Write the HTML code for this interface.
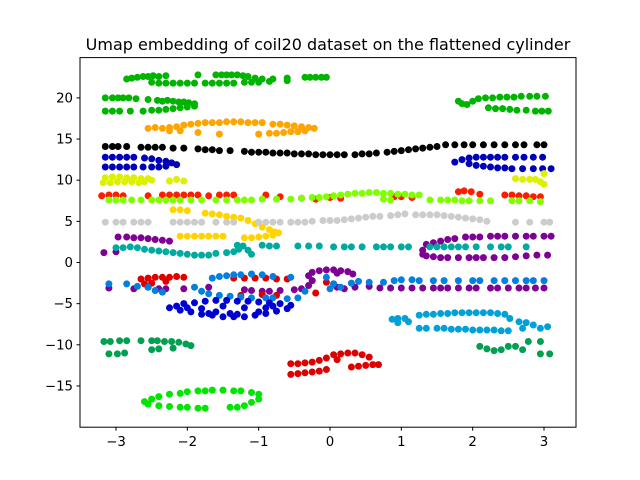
<!DOCTYPE html>
<html><head><meta charset="utf-8"><style>
html,body{margin:0;padding:0;background:#fff}
svg{display:block;font-family:"DejaVu Sans","Liberation Sans",sans-serif}
</style></head><body>
<svg id="chart" width="640" height="480" viewBox="0 0 640 480">
<rect width="640" height="480" fill="#fff"/>
<text x="328" y="50" font-size="16" text-anchor="middle" fill="#000">Umap embedding of coil20 dataset on the flattened cylinder</text>
<g id="points"></g>
<rect x="80" y="57.6" width="496" height="369.6" fill="none" stroke="#000" stroke-width="1"/>
<g id="xaxis"></g>
<g id="yaxis"></g>
</svg>
<script>
const xTicks=[-3,-2,-1,0,1,2,3];
const yTicks=[-15,-10,-5,0,5,10,15,20];
const seriesNames=["green","orange","black","darkblue","yellow","red","lime","gold","gray","purple","teal","red2","bluemid","darkblue2","lightblue","darkgreen","brightgreen"];
const seriesColors=["#00b400","#ffa500","#000000","#0000b8","#dcf000","#ff1a00","#7fff00","#ffd400","#cccccc","#7f0094","#00aaa0","#dd0000","#0080e0","#0000d2","#00a0d8","#00a050","#00e600"];
const green=[[-2.85,22.3],[-2.78,22.4],[-2.7,22.5],[-2.62,22.6],[-2.55,22.6],[-2.48,22.7],[-2.4,22.6],[-2.3,22.7],[-1.85,22.8],[-1.6,22.8],[-1.52,22.8],[-1.45,22.8],[-1.38,22.8],[-1.3,22.8],[-1.22,22.7],[-1.15,22.6],[-1.05,22.4],[-0.95,22.3],[-0.8,22.3],[-0.6,22.4],[-0.35,22.5],[-0.28,22.5],[-0.2,22.5],[-0.12,22.5],[-0.05,22.5],[-2.5,21.9],[-2.4,21.8],[-2.3,21.8],[-2.2,21.8],[-2.1,21.8],[-2.0,21.8],[-1.9,21.8],[-1.75,21.8],[-1.65,21.8],[-1.55,21.8],[-1.45,21.8],[-1.35,21.8],[-1.2,21.9],[-1.1,21.9],[-1.0,21.9],[-0.85,22.0],[-0.6,22.1],[-3.15,20.0],[-3.05,20.0],[-2.97,20.0],[-2.9,20.0],[-2.82,20.0],[-2.72,19.9],[-2.55,19.8],[-2.42,19.7],[-2.35,19.6],[-2.28,19.7],[-2.2,19.6],[-2.12,19.5],[-2.05,19.5],[-1.98,19.4],[-1.9,19.3],[-3.15,18.4],[-3.05,18.4],[-2.95,18.4],[-2.8,18.4],[-2.62,18.4],[-2.5,18.5],[-2.4,18.5],[-2.3,18.6],[-2.2,18.7],[-2.1,18.8],[-2.0,18.9],[-1.9,19.0],[1.8,19.6],[1.85,19.3],[1.92,19.2],[2.0,19.6],[2.08,19.9],[2.18,20.0],[2.28,20.0],[2.38,20.1],[2.48,20.1],[2.58,20.1],[2.68,20.2],[2.8,20.2],[2.9,20.2],[3.02,20.2],[2.22,18.8],[2.32,18.7],[2.42,18.7],[2.52,18.6],[2.62,18.5],[2.75,18.5],[2.88,18.4],[2.97,18.4],[3.06,18.4]];
const orange=[[-2.55,16.3],[-2.45,16.4],[-2.35,16.3],[-2.25,16.4],[-2.15,16.5],[-2.05,16.7],[-1.95,16.8],[-1.85,16.9],[-1.75,17.0],[-1.65,17.0],[-1.55,17.0],[-1.45,17.1],[-1.35,17.1],[-1.25,17.1],[-1.15,17.0],[-1.05,17.0],[-0.95,17.0],[-0.8,16.8],[-0.7,16.8],[-0.6,16.7],[-0.5,16.6],[-0.4,16.5],[-0.3,16.4],[-0.22,16.3],[-2.25,16.0],[-2.1,16.0],[-1.85,15.8],[-1.55,15.6],[-1.0,15.6],[-0.85,15.7],[-0.75,15.7],[-0.65,15.8],[-0.55,15.9],[-0.45,15.9],[-0.35,16.0]];
const black=[[-3.15,14.1],[-3.05,14.1],[-2.97,14.1],[-2.85,14.1],[-2.65,14.0],[-2.55,14.0],[-2.45,14.0],[-2.35,14.0],[-2.2,13.9],[-2.05,13.9],[-1.85,13.8],[-1.75,13.7],[-1.65,13.7],[-1.55,13.6],[-1.4,13.6],[-1.2,13.5],[-1.1,13.4],[-1.0,13.4],[-0.9,13.4],[-0.8,13.3],[-0.7,13.3],[-0.6,13.3],[-0.5,13.2],[-0.4,13.2],[-0.3,13.2],[-0.2,13.1],[-0.1,13.1],[0.0,13.1],[0.1,13.1],[0.2,13.1],[0.35,13.1],[0.45,13.2],[0.55,13.2],[0.65,13.3],[0.8,13.4],[0.9,13.5],[1.0,13.6],[1.1,13.7],[1.2,13.8],[1.3,13.9],[1.4,14.0],[1.5,14.1],[1.62,14.3],[1.75,14.3],[1.88,14.3],[2.0,14.3],[2.15,14.3],[2.3,14.3],[2.45,14.3],[2.6,14.3],[2.72,14.3],[2.9,14.3],[3.0,14.3]];
const darkblue=[[-3.15,12.8],[-3.05,12.8],[-2.95,12.8],[-2.85,12.8],[-2.75,12.8],[-2.6,12.7],[-2.5,12.6],[-2.4,12.4],[-2.3,12.3],[-2.22,12.1],[-2.15,11.9],[-3.15,11.6],[-3.05,11.6],[-2.95,11.6],[-2.85,11.6],[-2.75,11.6],[-2.62,11.6],[-2.5,11.6],[-2.4,11.6],[-2.3,11.7],[1.75,12.2],[1.85,12.5],[1.95,12.7],[2.05,12.8],[2.15,12.8],[2.25,12.8],[2.35,12.8],[2.45,12.8],[2.6,12.8],[2.72,12.8],[2.85,12.8],[2.98,12.8],[1.95,12.0],[2.05,11.8],[2.15,11.7],[2.25,11.6],[2.35,11.5],[2.45,11.5],[2.55,11.4],[2.7,11.4],[2.85,11.4],[2.98,11.4],[3.1,11.4]];
const yellow=[[-3.15,10.3],[-3.05,10.4],[-2.95,10.4],[-2.85,10.3],[-2.75,10.3],[-2.65,10.2],[-2.55,10.2],[-3.18,9.7],[-3.08,9.7],[-2.98,9.8],[-2.88,9.8],[-2.78,9.8],[-2.68,9.7],[-2.6,9.8],[-2.5,10.0],[-2.25,9.9],[-2.15,10.1],[-2.05,9.9],[2.6,10.2],[2.7,10.1],[2.8,10.1],[2.88,10.1],[2.95,9.8],[3.0,10.8],[3.0,9.5]];
const red=[[-3.2,8.1],[-3.1,8.2],[-3.0,8.2],[-2.9,8.1],[-2.55,8.1],[-2.35,8.2],[-2.25,8.2],[-2.15,8.2],[-2.05,8.2],[-1.95,8.2],[-1.85,8.2],[-1.7,8.1],[-1.55,8.2],[-1.45,8.2],[-1.35,8.2],[-0.9,8.2],[-0.7,8.0],[-0.4,7.8],[-0.2,7.7],[0.0,7.9],[0.15,7.8],[0.9,8.0],[1.0,8.0],[1.15,7.9],[1.8,8.6],[1.88,8.7],[1.98,8.6],[2.1,8.3],[2.45,8.2],[2.55,8.2],[2.65,8.1],[2.75,8.1],[2.85,8.0],[2.95,8.0]];
const lime=[[-3.1,7.6],[-3.0,7.6],[-2.9,7.6],[-2.78,7.6],[-2.65,7.6],[-2.5,7.6],[-2.4,7.6],[-2.3,7.6],[-2.2,7.6],[-2.1,7.6],[-1.95,7.6],[-1.8,7.6],[-1.6,7.6],[-1.45,7.6],[-1.3,7.6],[-1.2,7.6],[-1.1,7.6],[-0.95,7.7],[-0.75,7.7],[-0.55,7.7],[-0.4,7.8],[-0.25,7.9],[-0.15,7.9],[-0.05,8.0],[0.05,8.1],[0.15,8.2],[0.25,8.3],[0.35,8.4],[0.45,8.4],[0.55,8.5],[0.65,8.5],[0.75,8.4],[0.85,8.4],[0.95,8.3],[1.05,8.3],[1.15,8.2],[1.25,8.2],[0.75,7.7],[0.85,7.6],[1.4,7.6],[1.55,7.6],[1.65,7.6],[1.75,7.6],[1.85,7.5],[1.95,7.5],[2.1,7.5],[2.25,7.5],[2.55,7.5],[2.65,7.5],[2.8,7.5],[2.95,7.4]];
const gold=[[-2.2,6.4],[-2.1,6.4],[-2.0,6.3],[-1.75,6.0],[-1.65,5.9],[-1.55,5.8],[-1.45,5.6],[-1.35,5.5],[-1.25,5.4],[-1.15,5.1],[-1.05,4.7],[-0.95,4.3],[-0.85,4.0],[-0.78,3.7],[-2.1,3.2],[-2.0,3.2],[-1.9,3.2],[-1.8,3.2],[-1.7,3.2],[-1.6,3.2],[-1.5,3.2],[-1.2,3.0],[-1.1,3.0],[-1.0,3.1],[-0.9,3.2],[-0.8,3.3],[-0.72,3.6]];
const gray=[[-3.15,4.9],[-3.0,4.9],[-2.9,4.9],[-2.75,4.9],[-2.65,4.9],[-2.55,4.9],[-2.2,4.9],[-2.1,4.9],[-2.0,4.9],[-1.9,4.9],[-1.8,4.9],[-1.6,4.9],[-1.45,4.9],[-1.35,4.9],[-1.0,4.9],[-0.9,4.9],[-0.8,4.9],[-0.7,4.9],[-0.55,4.9],[-0.45,4.9],[-0.35,4.9],[-0.25,5.0],[-0.1,5.1],[0.0,5.1],[0.1,5.1],[0.2,5.2],[0.3,5.3],[0.4,5.4],[0.5,5.5],[0.6,5.6],[0.7,5.6],[0.85,5.7],[0.95,5.8],[1.05,5.9],[1.2,5.8],[1.3,5.8],[1.4,5.8],[1.5,5.8],[1.6,5.7],[1.7,5.6],[1.8,5.5],[1.9,5.4],[2.0,5.3],[2.1,5.2],[2.2,5.0],[2.6,4.9],[2.8,4.9],[3.0,4.9],[3.08,4.9]];
const purple=[[-2.97,3.1],[-2.85,3.1],[-2.75,3.0],[-2.65,3.0],[-2.55,2.9],[-2.45,2.8],[-2.35,2.7],[-2.25,2.6],[-3.17,1.2],[-3.0,1.3],[1.35,2.2],[1.45,2.4],[1.55,2.6],[1.65,2.8],[1.75,2.9],[1.9,3.1],[2.0,3.1],[2.1,3.1],[2.25,3.2],[2.35,3.2],[2.45,3.2],[2.6,3.2],[2.75,3.2],[2.85,3.2],[3.0,3.2],[3.1,3.2],[1.3,1.5],[1.3,1.0],[1.35,0.8],[1.45,0.7],[1.55,0.6],[1.65,0.6],[1.8,0.6],[1.95,0.6],[2.05,0.6],[2.15,0.6],[2.3,0.6],[2.45,0.6],[2.6,0.7],[2.75,0.8],[2.9,0.9],[3.05,0.9],[-3.1,-3.1],[-2.75,-3.2],[-2.55,-3.0],[-2.4,-3.2],[-2.3,-3.2],[-2.05,-3.2],[-1.7,-3.0],[-1.2,-3.3],[-1.1,-3.4],[-0.95,-3.5],[-0.85,-3.5],[-0.7,-3.4],[-0.5,-3.3],[-0.4,-3.2],[-0.3,-2.8],[-0.25,-2.2],[-0.3,-1.6],[-0.25,-1.2],[-0.15,-1.0],[-0.05,-0.9],[0.05,-0.9],[0.15,-1.0],[0.25,-1.1],[0.32,-1.4],[0.1,-1.3],[0.1,-3.0],[0.2,-3.2],[0.35,-3.0],[0.55,-2.9],[0.7,-3.1],[0.85,-3.1],[1.0,-3.1],[1.15,-3.1],[1.3,-3.1],[1.45,-3.1],[1.55,-3.1],[1.65,-3.1],[1.8,-3.1],[1.95,-3.1],[2.05,-3.1],[2.25,-3.1],[2.35,-3.1],[2.5,-3.1],[2.65,-3.1],[2.75,-3.1],[2.88,-3.1],[3.0,-3.1]];
const teal=[[-3.0,1.8],[-2.9,1.8],[-2.8,1.9],[-2.7,1.8],[-2.6,1.6],[-2.5,1.5],[-2.4,1.4],[-2.3,1.3],[-2.2,1.2],[-2.1,1.1],[-2.0,1.0],[-1.9,0.9],[-1.8,0.9],[-1.7,0.9],[-1.6,1.1],[-1.45,1.2],[-1.35,1.3],[-1.28,1.6],[-1.22,2.0],[-1.3,2.1],[-1.15,1.5],[-1.1,1.0],[-0.95,2.1],[-0.85,2.0],[-0.75,2.0],[-0.45,2.0],[-0.3,2.0],[-0.15,2.0],[0.05,1.9],[0.2,1.9],[0.3,1.9],[0.45,1.9],[0.65,1.9],[0.75,1.9],[0.85,1.9],[1.0,1.9],[1.1,1.9],[1.4,1.9],[1.5,1.9],[1.6,1.9],[1.7,1.9],[1.8,1.9],[1.9,1.9],[2.05,1.9],[2.25,1.9],[2.4,1.9],[2.5,1.9],[2.75,1.9]];
const red2=[[-2.65,-2.0],[-2.55,-1.9],[-2.45,-1.8],[-2.35,-1.8],[-2.25,-1.8],[-2.15,-1.7],[-2.05,-1.8],[-2.6,-2.6],[-2.5,-2.5],[-2.3,-2.3],[-1.35,-1.9],[-1.2,-1.9],[-1.05,-1.9],[-0.9,-1.9],[-0.75,-2.0],[-0.6,-2.0],[-1.25,-4.0],[-0.75,-4.0],[-0.95,-3.9],[-0.2,-3.7],[-0.05,-2.4],[0.05,-2.6],[-0.55,-13.6],[-0.45,-13.5],[-0.35,-13.4],[-0.25,-13.3],[-0.15,-13.2],[-0.05,-13.0],[-0.55,-12.3],[-0.45,-12.3],[-0.35,-12.2],[-0.25,-12.1],[-0.15,-11.9],[-0.05,-11.6],[0.05,-11.2],[0.15,-11.1],[0.25,-11.0],[0.35,-11.0],[0.45,-11.2],[0.55,-11.5],[0.3,-12.7],[0.4,-12.6],[0.5,-12.5],[0.6,-12.4],[0.68,-12.4],[0.1,-11.8]];
const bluemid=[[-3.1,-2.6],[-2.85,-2.6],[-2.7,-2.9],[-2.55,-3.0],[-2.45,-3.4],[-2.35,-3.6],[-1.65,-1.9],[-1.55,-1.7],[-1.45,-1.6],[-1.35,-1.5],[-1.25,-1.5],[-1.1,-1.4],[-0.95,-1.5],[-0.8,-1.7],[-0.55,-1.8],[-1.9,-3.0],[-1.8,-3.5],[-1.7,-3.8],[-1.55,-4.0],[-1.4,-4.1],[-1.25,-4.2],[-1.1,-4.3],[-0.9,-4.3],[-0.8,-4.3],[-0.6,-4.4],[-0.45,-4.3],[-0.35,-3.5],[-0.05,-1.8],[0.0,-3.2],[0.05,-2.6],[0.15,-3.0],[0.3,-2.5],[0.4,-2.3],[0.55,-2.4],[0.75,-2.4],[0.9,-2.2],[1.0,-2.1],[1.15,-2.1],[1.25,-2.2],[1.45,-2.2],[1.6,-2.2],[1.8,-2.2],[2.0,-2.2],[2.1,-2.2],[2.3,-2.2],[2.45,-2.2],[2.6,-2.2],[2.75,-2.2],[2.85,-2.2],[3.0,-2.2]];
const darkblue2=[[-2.25,-5.5],[-2.15,-5.3],[-2.05,-5.0],[-1.9,-4.9],[-1.75,-4.7],[-1.6,-4.6],[-1.45,-4.6],[-1.3,-4.7],[-1.15,-4.7],[-1.0,-4.8],[-0.85,-4.9],[-0.7,-5.0],[-0.55,-5.2],[-2.1,-5.8],[-1.95,-6.0],[-1.8,-6.3],[-1.65,-6.4],[-1.5,-6.6],[-1.35,-6.6],[-1.2,-6.6],[-1.05,-6.4],[-0.9,-6.2],[-0.75,-5.9],[-0.6,-5.6],[-1.6,-6.0],[-1.4,-6.2],[-1.0,-6.0],[-1.8,-5.6],[-1.5,-5.3],[-1.2,-5.5],[-0.9,-5.5],[-2.0,-5.5],[-1.7,-6.2],[-1.3,-6.3],[-0.8,-5.3]];
const lightblue=[[0.87,-6.9],[0.95,-6.8],[1.05,-6.8],[1.1,-7.2],[0.95,-7.3],[1.25,-6.4],[1.35,-6.3],[1.45,-6.3],[1.55,-6.2],[1.65,-6.2],[1.75,-6.1],[1.85,-6.1],[1.95,-6.1],[2.05,-6.1],[2.15,-6.1],[2.25,-6.1],[2.35,-6.2],[2.45,-6.3],[2.52,-6.8],[1.25,-8.0],[1.35,-8.0],[1.5,-8.0],[1.6,-8.0],[1.7,-8.1],[1.8,-8.1],[1.9,-8.1],[2.0,-8.2],[2.1,-8.2],[2.2,-8.2],[2.3,-8.2],[2.4,-8.3],[2.5,-8.3],[2.65,-7.2],[2.75,-7.3],[2.85,-7.6],[2.95,-8.0],[3.05,-7.8],[2.7,-8.0]];
const darkgreen=[[-3.17,-9.6],[-3.08,-9.6],[-2.95,-9.5],[-2.85,-9.5],[-2.65,-9.5],[-2.5,-9.5],[-2.42,-9.5],[-2.32,-9.6],[-2.22,-9.6],[-2.12,-9.7],[-2.02,-9.9],[-1.95,-10.1],[-3.1,-11.1],[-2.98,-11.1],[-2.88,-11.0],[-2.5,-10.6],[-2.4,-10.5],[-2.2,-10.4],[2.1,-10.2],[2.2,-10.5],[2.3,-10.7],[2.4,-10.6],[2.5,-10.2],[2.6,-10.2],[2.7,-10.6],[2.78,-9.6],[2.95,-9.6],[2.95,-11.1],[3.08,-11.1]];
const brightgreen=[[-2.6,-16.9],[-2.5,-16.6],[-2.4,-16.3],[-2.25,-16.0],[-2.1,-15.9],[-2.0,-15.7],[-1.85,-15.6],[-1.75,-15.6],[-1.65,-15.5],[-1.5,-15.5],[-1.35,-15.6],[-1.25,-15.6],[-1.1,-15.8],[-1.0,-16.0],[-2.55,-17.2],[-2.4,-17.4],[-2.25,-17.5],[-2.1,-17.6],[-2.0,-17.6],[-1.85,-17.7],[-1.75,-17.7],[-1.4,-17.6],[-1.3,-17.6],[-1.2,-17.4],[-1.1,-17.0],[-1.0,-16.6]];
const seriesData=[green,orange,black,darkblue,yellow,red,lime,gold,gray,purple,teal,red2,bluemid,darkblue2,lightblue,darkgreen,brightgreen];

const NS="http://www.w3.org/2000/svg";
function xs(v){return 330+v*71.33;}
function ys(v){return 262.5-v*8.23;}
const pg=document.getElementById('points');
seriesData.forEach((pts,si)=>{
  const g=document.createElementNS(NS,'g');
  
  
  pts.forEach(p=>{
    const c=document.createElementNS(NS,'circle');
    c.setAttribute('cx',xs(p[0]).toFixed(1));
    c.setAttribute('cy',ys(p[1]).toFixed(1));
    c.setAttribute('r','3.5');
    c.setAttribute('fill',seriesColors[si]);
    
    
    g.appendChild(c);
  });
  pg.appendChild(g);
});
const xa=document.getElementById('xaxis');
xTicks.forEach(t=>{
  const x=xs(t);
  const l=document.createElementNS(NS,'line');
  l.setAttribute('x1',x);l.setAttribute('x2',x);l.setAttribute('y1',427.2);l.setAttribute('y2',430.7);
  l.setAttribute('stroke','#000');
  
  
  xa.appendChild(l);
  const tx=document.createElementNS(NS,'text');
  tx.setAttribute('x',x);tx.setAttribute('y',446);tx.setAttribute('font-size','13.3');tx.setAttribute('text-anchor','middle');
  tx.textContent=(t<0?'\u2212'+(-t):String(t));
  
  
  xa.appendChild(tx);
});
const ya=document.getElementById('yaxis');
yTicks.forEach(t=>{
  const y=ys(t);
  const l=document.createElementNS(NS,'line');
  l.setAttribute('x1',76.5);l.setAttribute('x2',80);l.setAttribute('y1',y);l.setAttribute('y2',y);
  l.setAttribute('stroke','#000');
  
  
  ya.appendChild(l);
  const tx=document.createElementNS(NS,'text');
  tx.setAttribute('x',73);tx.setAttribute('y',y+4.5);tx.setAttribute('font-size','13.3');tx.setAttribute('text-anchor','end');
  tx.textContent=(t<0?'\u2212'+(-t):String(t));
  
  
  ya.appendChild(tx);
});
</script>
</body></html>
